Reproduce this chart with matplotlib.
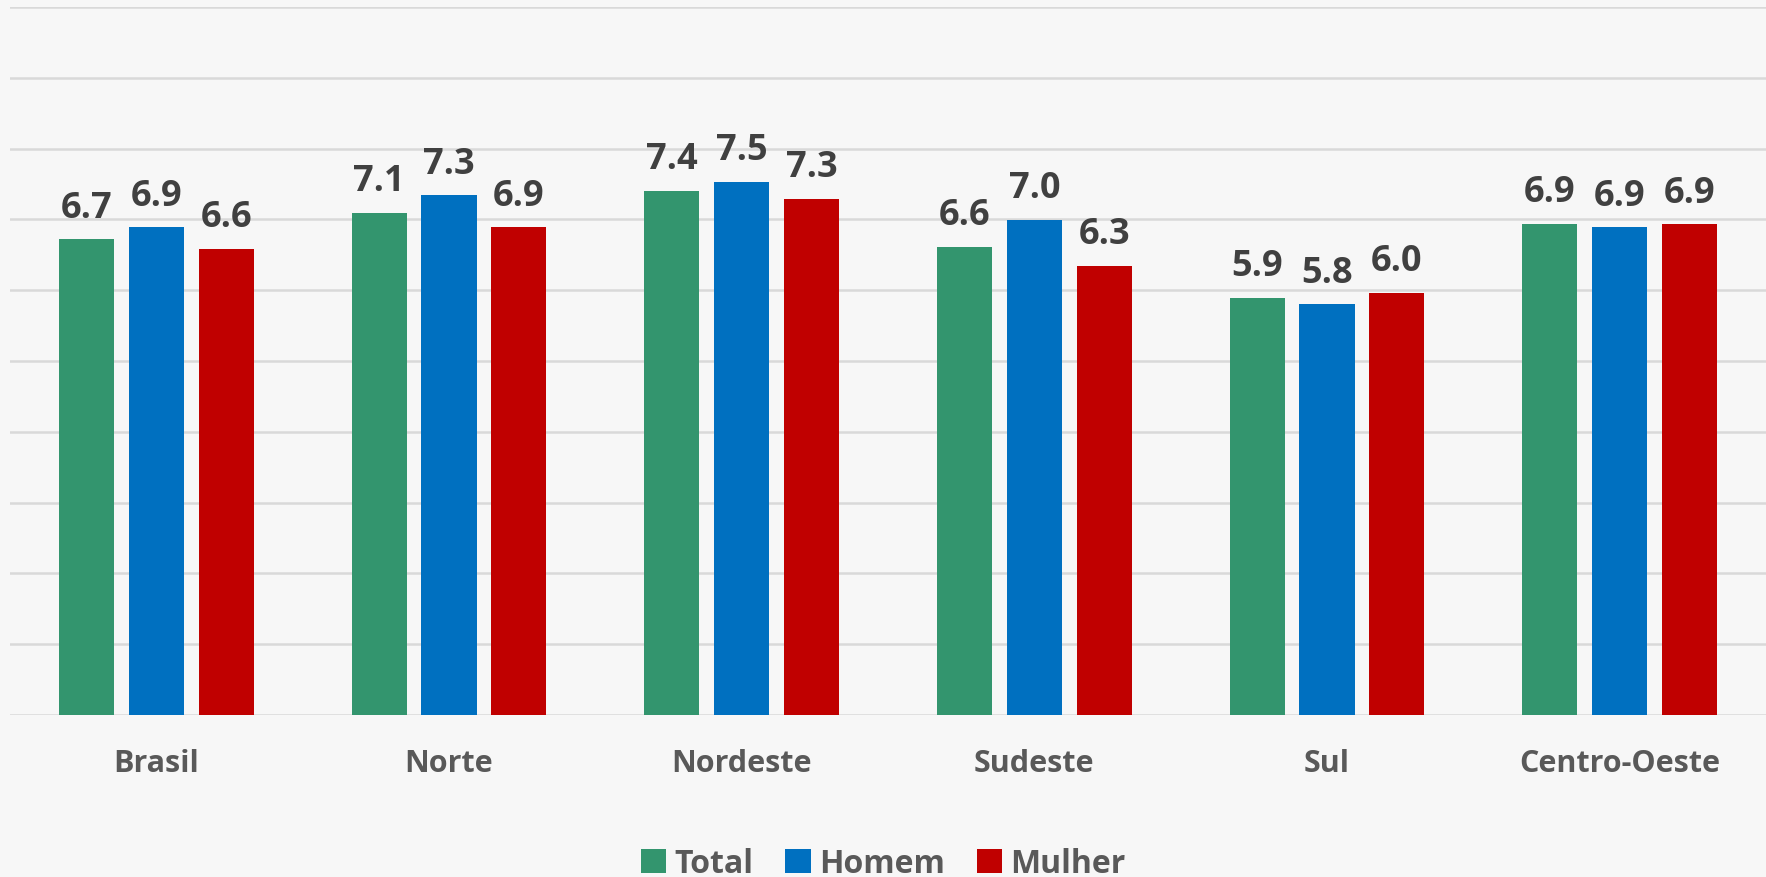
import matplotlib
matplotlib.use("Agg")
import matplotlib.pyplot as plt
import numpy as np

categories = ["Brasil", "Norte", "Nordeste", "Sudeste", "Sul", "Centro-Oeste"]
series_names = ["Total", "Homem", "Mulher"]
total = [6.72, 7.09, 7.40, 6.61, 5.89, 6.94]
homem = [6.89, 7.34, 7.53, 6.99, 5.80, 6.89]
mulher = [6.58, 6.89, 7.29, 6.34, 5.96, 6.93]
colors = ["#33956E", "#0070C0", "#C00000"]

plt.rcParams['font.family'] = ['Open Sans', 'DejaVu Sans']

bg = "#F7F7F7"
fig = plt.figure(figsize=(17.66, 8.78), dpi=100, facecolor=bg)
ax = fig.add_axes([10/1766, 1-716/878, 1-10/1766, (716-8)/878])
ax.set_facecolor(bg)

x = np.arange(len(categories))
w = 0.188
step = 0.239
for i, (vals, c, name) in enumerate(zip([total, homem, mulher], colors, series_names)):
    pos = x + (i-1)*step
    ax.bar(pos, vals, width=w, color=c, label=name, zorder=3)
    for xb, v in zip(pos, vals):
        ax.text(xb, v + 0.32, f"{v:.1f}", ha='center', va='baseline',
                fontsize=26, fontweight='bold', color='#404040')

ax.set_xlim(-0.5, len(categories)-0.5)
ax.set_ylim(0, 10)
ax.set_yticks(np.arange(0, 11, 1))
ax.yaxis.grid(True, color='#D9D9D9', linewidth=1.8, zorder=0)
ax.tick_params(axis='y', left=False, labelleft=False)
ax.tick_params(axis='x', bottom=False, pad=20)
ax.set_xticks(x)
ax.set_xticklabels(categories, fontsize=22, fontweight='bold', color='#595959')
for s in ax.spines.values():
    s.set_visible(False)

fig.legend(loc='lower center', bbox_to_anchor=(0.5, -0.036), ncol=3, frameon=False,
           handlelength=0.8, handleheight=0.8, handletextpad=0.25, columnspacing=1.0,
           prop={'size': 23, 'weight': 'bold'}, labelcolor='#595959')

fig.savefig("out.png", dpi=100, facecolor=bg)
